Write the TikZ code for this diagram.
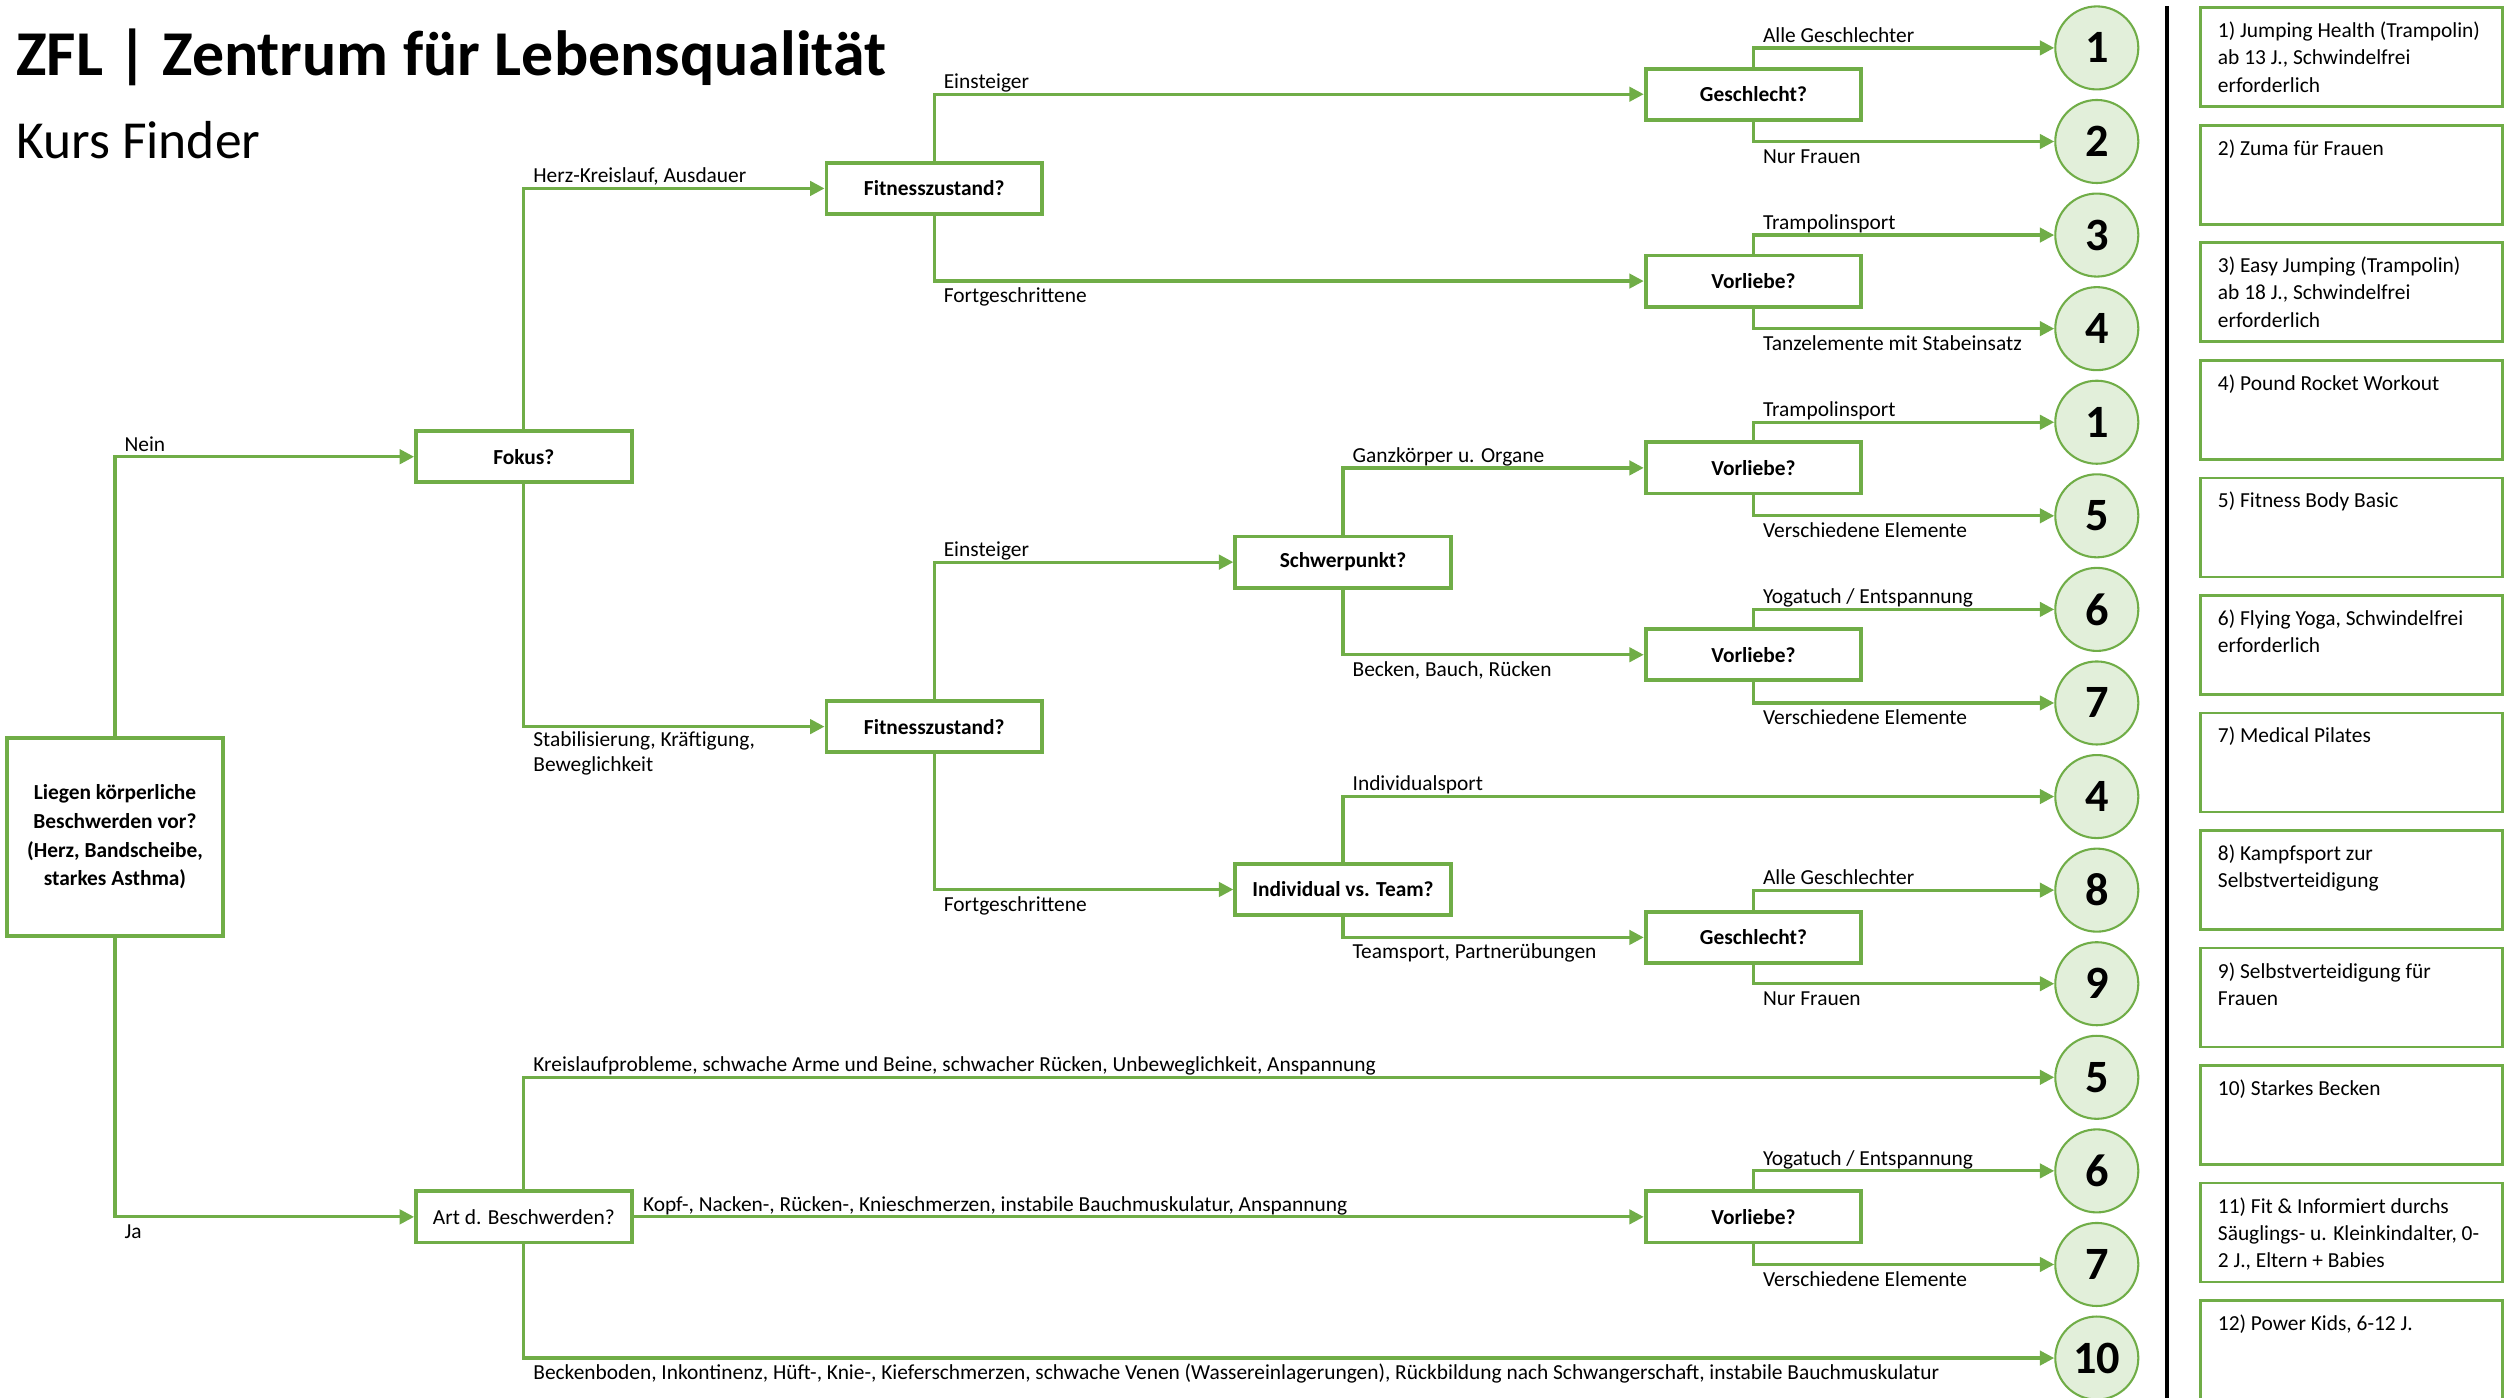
\documentclass[tikz,border=0pt]{standalone}
\usepackage{fontspec}
\setmainfont{Carlito}
\usetikzlibrary{arrows.meta}
\definecolor{zgreen}{HTML}{70AD47}
\definecolor{zlight}{HTML}{E2EFDA}
\tikzset{
  qbox/.style={draw=zgreen, line width=2.4pt, fill=white, minimum width=135pt, minimum height=32pt, inner sep=0pt, font=\bfseries\fontsize{13.4}{16}\selectfont},
  rnd/.style={circle, draw=zgreen, line width=1.3pt, fill=zlight, minimum size=52pt, inner sep=0pt, font=\bfseries\fontsize{29}{30}\selectfont},
  conn/.style={draw=zgreen, line width=2pt, -{Triangle[length=9pt,width=9pt]}},
  lab/.style={font=\fontsize{13.4}{16}\selectfont, inner sep=0pt, text=black},
  labA/.style={lab, anchor=base west, xshift=5pt, yshift=3.5pt},
  labB/.style={lab, anchor=base west, xshift=5pt, yshift=-13.5pt},
  rbox/.style={draw=zgreen, line width=1.7pt, anchor=north west, inner xsep=11pt, inner ysep=0pt, font=\fontsize{13.4}{17}\selectfont}
}
\newcommand{\rtxt}[1]{\parbox[c][62pt][t]{167pt}{\vspace*{9pt}\raggedright #1}}
\begin{document}
\begin{tikzpicture}[x=1pt,y=-1pt]
\useasboundingbox (0,0) rectangle (1568,875);
\clip (0,0) rectangle (1568,875);
% title
\node[anchor=base west, inner sep=0pt, font=\bfseries\fontsize{40}{44}\selectfont] (title) at (10,47) {ZFL | Zentrum für Lebensqualität};
\node[anchor=base west, inner sep=0pt, font=\fontsize{33.5}{36}\selectfont] (sub) at (10,99) {Kurs Finder};
% question boxes
\node[qbox, minimum height=124pt, align=center, font=\bfseries\fontsize{13.4}{18}\selectfont] (start) at (72,524) {Liegen körperliche\\Beschwerden vor?\\(Herz, Bandscheibe,\\starkes Asthma)};
\node[qbox] (fokus) at (328,286) {Fokus?};
\node[qbox, font=\fontsize{13.4}{16}\selectfont] (art) at (328,762) {Art d. Beschwerden?};
\node[qbox] (f1) at (585,118) {Fitnesszustand?};
\node[qbox] (f2) at (585,455) {Fitnesszustand?};
\node[qbox] (g1) at (1098,59) {Geschlecht?};
\node[qbox] (v1) at (1098,176) {Vorliebe?};
\node[qbox] (sp) at (841,352) {Schwerpunkt?};
\node[qbox] (v2) at (1098,293) {Vorliebe?};
\node[qbox] (v3) at (1098,410) {Vorliebe?};
\node[qbox] (iv) at (841,557) {Individual vs. Team?};
\node[qbox] (g2) at (1098,587) {Geschlecht?};
\node[qbox] (v4) at (1098,762) {Vorliebe?};
% result circles
\node[rnd] (c1) at (1313,30) {1};
\node[rnd] (c2) at (1313,88.6) {2};
\node[rnd] (c3) at (1313,147.2) {3};
\node[rnd] (c4) at (1313,205.8) {4};
\node[rnd] (c5) at (1313,264.4) {1};
\node[rnd] (c6) at (1313,323) {5};
\node[rnd] (c7) at (1313,381.6) {6};
\node[rnd] (c8) at (1313,440.2) {7};
\node[rnd] (c9) at (1313,498.8) {4};
\node[rnd] (c10) at (1313,557.4) {8};
\node[rnd] (c11) at (1313,616) {9};
\node[rnd] (c12) at (1313,674.6) {5};
\node[rnd] (c13) at (1313,733.2) {6};
\node[rnd] (c14) at (1313,791.8) {7};
\node[rnd] (c15) at (1313,850.4) {10};
% connectors
\draw[conn] (start.north) |- node[labA]{Nein} (fokus.west);
\draw[conn] (start.south) |- node[labB]{Ja} (art.west);
\draw[conn] (fokus.north) |- node[labA]{Herz-Kreislauf, Ausdauer} (f1.west);
\draw[conn] (fokus.south) |- node[lab, anchor=north west, align=left, xshift=5pt, yshift=-2pt]{Stabilisierung, Kräftigung,\\Beweglichkeit} (f2.west);
\draw[conn] (f1.north) |- node[labA]{Einsteiger} (g1.west);
\draw[conn] (f1.south) |- node[labB]{Fortgeschrittene} (v1.west);
\draw[conn] (g1.north) |- node[labA]{Alle Geschlechter} (c1.west);
\draw[conn] (g1.south) |- node[labB]{Nur Frauen} (c2.west);
\draw[conn] (v1.north) |- node[labA]{Trampolinsport} (c3.west);
\draw[conn] (v1.south) |- node[labB]{Tanzelemente mit Stabeinsatz} (c4.west);
\draw[conn] (f2.north) |- node[labA]{Einsteiger} (sp.west);
\draw[conn] (f2.south) |- node[labB]{Fortgeschrittene} (iv.west);
\draw[conn] (sp.north) |- node[labA]{Ganzkörper u. Organe} (v2.west);
\draw[conn] (sp.south) |- node[labB]{Becken, Bauch, Rücken} (v3.west);
\draw[conn] (v2.north) |- node[labA]{Trampolinsport} (c5.west);
\draw[conn] (v2.south) |- node[labB]{Verschiedene Elemente} (c6.west);
\draw[conn] (v3.north) |- node[labA]{Yogatuch / Entspannung} (c7.west);
\draw[conn] (v3.south) |- node[labB]{Verschiedene Elemente} (c8.west);
\draw[conn] (iv.north) |- node[labA]{Individualsport} (c9.west);
\draw[conn] (iv.south) |- node[labB]{Teamsport, Partnerübungen} (g2.west);
\draw[conn] (g2.north) |- node[labA]{Alle Geschlechter} (c10.west);
\draw[conn] (g2.south) |- node[labB]{Nur Frauen} (c11.west);
\draw[conn] (art.north) |- node[labA]{Kreislaufprobleme, schwache Arme und Beine, schwacher Rücken, Unbeweglichkeit, Anspannung} (c12.west);
\draw[conn] (art.east) -- node[labA, pos=0]{Kopf-, Nacken-, Rücken-, Knieschmerzen, instabile Bauchmuskulatur, Anspannung} (v4.west);
\draw[conn] (art.south) |- node[labB]{Beckenboden, Inkontinenz, Hüft-, Knie-, Kieferschmerzen, schwache Venen (Wassereinlagerungen), Rückbildung nach Schwangerschaft, instabile Bauchmuskulatur} (c15.west);
\draw[conn] (v4.north) |- node[labA]{Yogatuch / Entspannung} (c13.west);
\draw[conn] (v4.south) |- node[labB]{Verschiedene Elemente} (c14.west);
% separator
\draw[black, line width=3pt] (1357,4) -- (1357,880);
% legend boxes
\node[rbox] (r1) at (1377,4) {\rtxt{1) Jumping Health (Trampolin)\\ab 13 J., Schwindelfrei\\erforderlich}};
\node[rbox] (r2) at (1377,77.6) {\rtxt{2) Zuma für Frauen}};
\node[rbox] (r3) at (1377,151.2) {\rtxt{3) Easy Jumping (Trampolin)\\ab 18 J., Schwindelfrei\\erforderlich}};
\node[rbox] (r4) at (1377,224.8) {\rtxt{4) Pound Rocket Workout}};
\node[rbox] (r5) at (1377,298.4) {\rtxt{5) Fitness Body Basic}};
\node[rbox] (r6) at (1377,372) {\rtxt{6) Flying Yoga, Schwindelfrei\\erforderlich}};
\node[rbox] (r7) at (1377,445.6) {\rtxt{7) Medical Pilates}};
\node[rbox] (r8) at (1377,519.2) {\rtxt{8) Kampfsport zur\\Selbstverteidigung}};
\node[rbox] (r9) at (1377,592.8) {\rtxt{9) Selbstverteidigung für\\Frauen}};
\node[rbox] (r10) at (1377,666.4) {\rtxt{10) Starkes Becken}};
\node[rbox] (r11) at (1377,740) {\rtxt{11) Fit \& Informiert durchs\\Säuglings- u. Kleinkindalter, 0-\\2 J., Eltern + Babies}};
\node[rbox] (r12) at (1377,813.6) {\rtxt{12) Power Kids, 6-12 J.}};
\end{tikzpicture}
\end{document}
